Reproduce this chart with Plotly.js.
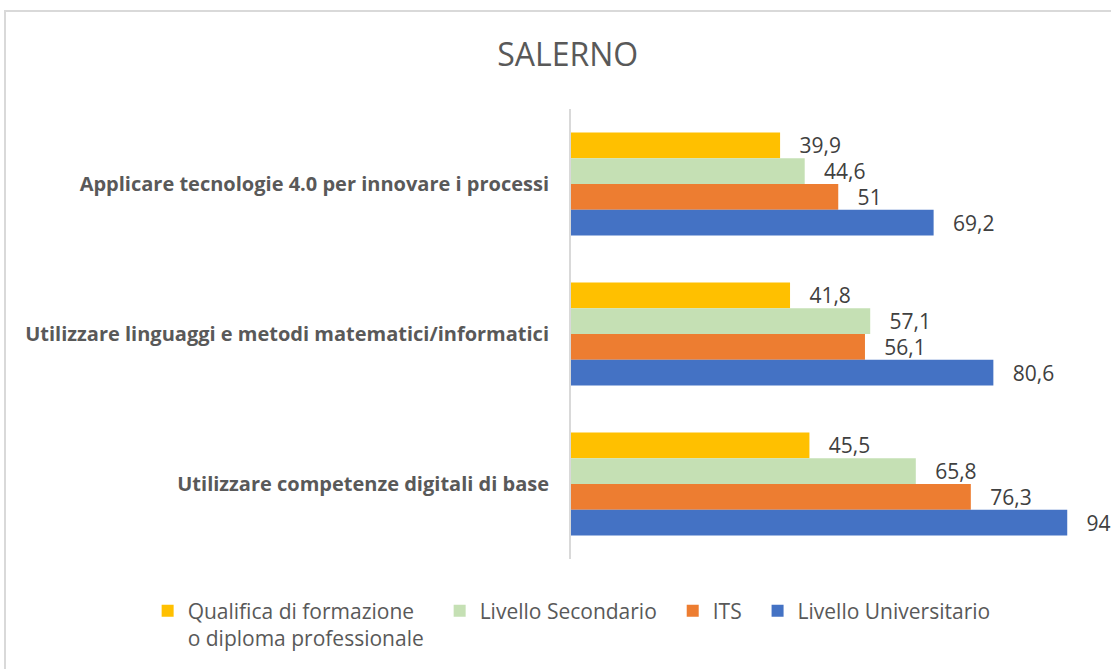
<!DOCTYPE html>
<html>
<head>
<meta charset="utf-8">
<script src="https://cdn.plot.ly/plotly-3.0.1.min.js"></script>
<style>
  body { margin: 0; background: #fff; }
  #wrap { position: relative; width: 1111px; height: 669px; overflow: hidden; }
  #frame { position: absolute; left: 4px; top: 10px; width: 1200px; height: 700px;
           border: 2px solid #d9d9d9; box-sizing: border-box; }
  #plot { position: absolute; left: 0; top: 0; width: 1111px; height: 669px; }
</style>
</head>
<body>
<div id="wrap">
  <div id="frame"></div>
  <div id="plot"></div>
</div>
<script>
// categories, top to bottom
var categories = [
  "Applicare tecnologie 4.0 per innovare i processi",
  "Utilizzare linguaggi e metodi matematici/informatici",
  "Utilizzare competenze digitali di base"
];

var qualifica     = [39.9, 41.8, 45.5];
var secondario    = [44.6, 57.1, 65.8];
var its           = [51, 56.1, 76.3];
var universitario = [69.2, 80.6, 94.7];

// legend names (trailing nbsp = extra room between legend entries)
var seriesNames = [
  "Qualifica di formazione<br>o diploma professionale\u00a0\u00a0",
  "Livello Secondario\u00a0\u00a0",
  "ITS\u00a0\u00a0",
  "Livello Universitario"
];
var seriesColors = ["#FFC000", "#C5E0B4", "#ED7D31", "#4472C4"];

var FONT = "Open Sans, sans-serif";

function labels(vals) {
  return vals.map(function (v) { return "\u00a0\u00a0\u00a0" + String(v).replace(".", ","); });
}

var data = [qualifica, secondario, its, universitario].map(function (vals, i) {
  return {
    type: "bar",
    orientation: "h",
    y: categories,
    x: vals,
    name: seriesNames[i],
    marker: { color: seriesColors[i] },
    text: labels(vals),
    textposition: "outside",
    textfont: { family: FONT, size: 21, color: "#404040" },
    constraintext: "none",
    cliponaxis: false,
    hoverinfo: "skip"
  };
});

var layout = {
  width: 1111,
  height: 669,
  margin: { l: 571, r: 0, t: 109, b: 110 },
  paper_bgcolor: "rgba(0,0,0,0)",
  plot_bgcolor: "rgba(0,0,0,0)",
  font: { family: FONT, color: "#595959" },
  title: {
    text: "SALERNO",
    font: { family: FONT, size: 32, color: "#595959" },
    xref: "container", x: 0.511, xanchor: "center",
    yref: "container", y: 0.918, yanchor: "middle"
  },
  barmode: "group",
  bargap: 0.313,
  bargroupgap: 0,
  xaxis: {
    range: [0, 103.05],
    showgrid: false, zeroline: false, showline: false,
    showticklabels: false, ticks: ""
  },
  yaxis: {
    autorange: "reversed",
    showline: true, linecolor: "#d9d9d9", linewidth: 2,
    ticks: "", ticklabelstandoff: 16,
    tickfont: { family: FONT, size: 20, color: "#595959", weight: "bold" }
  },
  showlegend: true,
  legend: {
    orientation: "h",
    traceorder: "normal",
    x: -0.784, xanchor: "left",
    y: -0.07, yanchor: "top",
    valign: "top",
    font: { family: FONT, size: 21, color: "#595959" },
    itemwidth: 30
  }
};

Plotly.newPlot("plot", data, layout, { displayModeBar: false, staticPlot: true });
</script>
</body>
</html>
